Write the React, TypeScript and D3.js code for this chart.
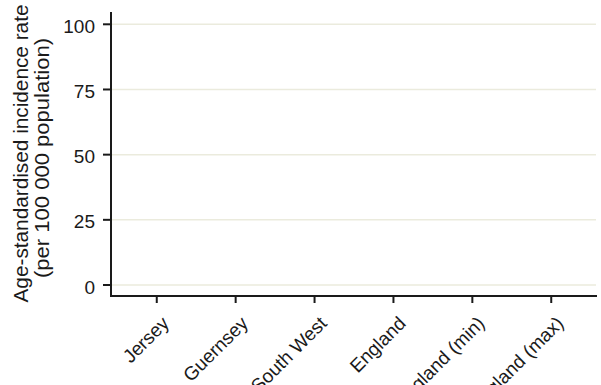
import React from "react";
import * as d3 from "d3";

const categories = ["Jersey", "Guernsey", "South West", "England", "England (min)", "England (max)"];
const yTicks = [0, 25, 50, 75, 100];
const yTitleLines = ["Age-standardised incidence rate", "(per 100 000 population)"];

const W = 601;
const H = 385;
const axisX = 111;
const axisY = 296;
const axisTop = 12;
const right = 597;
const FONT = "Arial, 'Liberation Sans', sans-serif";
const INK = "#1a1a1a";

export default function App() {
  const x = d3.scalePoint<string>().domain(categories).range([axisX, right]).padding(0.58);
  const y = d3.scaleLinear().domain([0, 100]).range([285, 24.3]);

  return (
    <svg width={W} height={H} style={{ position: "absolute", left: 0, top: 0, background: "#fff" }}>
      <rect width={W} height={H} fill="#fff" />
      {yTicks.map((t) => (
        <line key={"g" + t} x1={axisX} x2={596} y1={y(t)} y2={y(t)} stroke="#ebebdd" strokeWidth={1.5} />
      ))}
      <line x1={axisX} x2={axisX} y1={axisTop} y2={axisY + 1} stroke={INK} strokeWidth={2} />
      <line x1={axisX - 1} x2={right} y1={axisY} y2={axisY} stroke={INK} strokeWidth={2} />
      {yTicks.map((t) => (
        <g key={"t" + t}>
          <line x1={103} x2={axisX} y1={y(t)} y2={y(t)} stroke={INK} strokeWidth={2} />
          <text x={95} y={y(t) + 8.5} textAnchor="end" fontFamily={FONT} fontSize={19} fill={INK}>
            {t}
          </text>
        </g>
      ))}
      {categories.map((c) => {
        const cx = x(c) as number;
        return (
          <g key={c}>
            <line x1={cx} x2={cx} y1={axisY} y2={303} stroke={INK} strokeWidth={2} />
            <text
              transform={`translate(${cx + 13.5},${324.5}) rotate(-45)`}
              textAnchor="end"
              fontFamily={FONT}
              fontSize={19}
              fill={INK}
            >
              {c}
            </text>
          </g>
        );
      })}
      <g transform={`translate(0,154) rotate(-90)`}>
        <text x={0.5} y={28} textAnchor="middle" fontFamily={FONT} fontSize={20} fill={INK} textLength={298} lengthAdjust="spacingAndGlyphs">
          {yTitleLines[0]}
        </text>
        <text x={-4} y={48.5} textAnchor="middle" fontFamily={FONT} fontSize={20} fill={INK} textLength={240} lengthAdjust="spacingAndGlyphs">
          {yTitleLines[1]}
        </text>
      </g>
    </svg>
  );
}
